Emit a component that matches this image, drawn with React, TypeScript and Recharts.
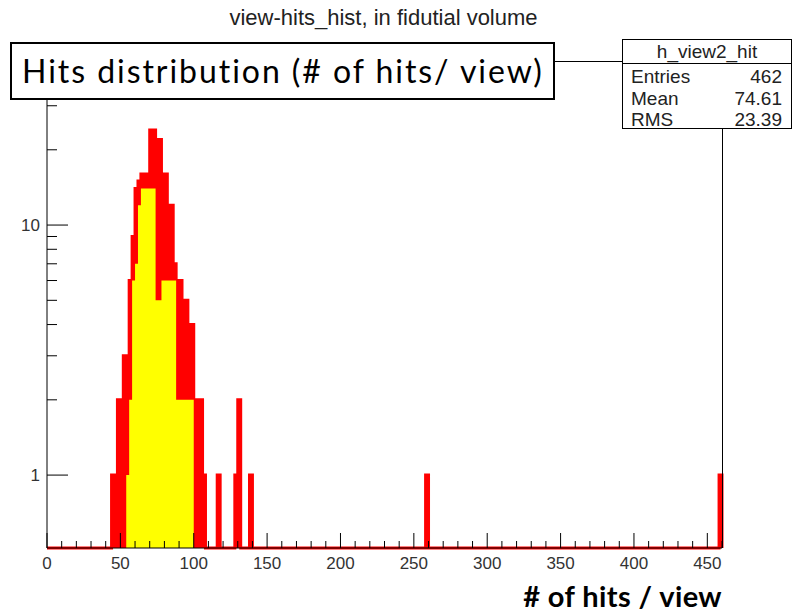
import { ComposedChart, Area, XAxis, YAxis } from "recharts"

const X_MIN = 0
const X_MAX = 460
const BIN_WIDTH = 2
const Y_MIN = 0.511
const Y_MAX = 45.3

// red histogram: left edge of every non-empty bin and its entries
const RED_EDGES = [44, 46, 48, 50, 52, 54, 56, 58, 60, 62, 64, 66, 68, 70, 72, 74, 76, 78, 80, 82, 84, 86, 88, 90, 92, 94, 96, 98, 100, 102, 104, 106, 116, 128, 130, 138, 258, 458]
const RED_COUNTS = [1, 1, 2, 2, 3, 3, 6, 9, 14, 15, 16, 16, 16, 24, 24, 22, 22, 16, 16, 12, 12, 7, 6, 6, 5, 5, 4, 4, 2, 1, 2, 1, 1, 1, 2, 1, 1, 1]

// yellow histogram (drawn over the red one)
const YELLOW_EDGES = [54, 56, 58, 60, 62, 64, 66, 68, 70, 72, 74, 76, 78, 80, 82, 84, 86, 88, 90, 92, 94, 96, 98]
const YELLOW_COUNTS = [1, 2, 6, 7, 12, 14, 14, 14, 14, 14, 5, 5, 6, 6, 6, 6, 6, 2, 2, 2, 2, 2, 2]

const X_LABELS = [0, 50, 100, 150, 200, 250, 300, 350, 400, 450]
const Y_TICKS = [1, 2, 3, 4, 5, 6, 7, 8, 9, 10, 20, 30, 40]
const Y_LABELS = [1, 10]

const STATS_NAME = "h_view2_hit"
const STATS_ROWS = [
  ["Entries", "462"],
  ["Mean", "74.61"],
  ["RMS", "23.39"],
]

const X_TICKS: number[] = []
for (let t = X_MIN; t <= X_MAX; t += 10) X_TICKS.push(t)

function buildBins(edges: number[], counts: number[]) {
  const rows = []
  for (let x = X_MIN; x <= X_MAX; x += BIN_WIDTH) {
    const i = edges.indexOf(x)
    const n = i >= 0 ? counts[i] : 0
    // empty bins sit on the bottom of the log axis
    rows.push({ x, count: n > 0 ? n : Y_MIN })
  }
  return rows
}

const redBins = buildBins(RED_EDGES, RED_COUNTS)
const yellowBins = buildBins(YELLOW_EDGES, YELLOW_COUNTS)

const ROOT_FONT = "'Liberation Sans', Arial, sans-serif"

function XTick(props: any) {
  const { x, y, payload } = props
  const major = X_LABELS.includes(payload.value)
  return (
    <g>
      <line x1={x} y1={y} x2={x} y2={y - (major ? 15 : 7)} stroke="#000" strokeWidth={1} />
      {major && (
        <text x={x} y={y + 21} textAnchor="middle" fontSize={17} fill="#333" fontFamily={ROOT_FONT}>
          {payload.value}
        </text>
      )}
    </g>
  )
}

function YTick(props: any) {
  const { x, y, payload } = props
  const major = Y_LABELS.includes(payload.value)
  return (
    <g>
      <line x1={x} y1={y} x2={x + (major ? 21 : 10)} y2={y} stroke="#000" strokeWidth={1} />
      {major && (
        <text x={x - 7} y={y + 6} textAnchor="end" fontSize={17} fill="#333" fontFamily={ROOT_FONT}>
          {payload.value}
        </text>
      )}
    </g>
  )
}

export default function App() {
  return (
    <div style={{ position: "absolute", left: 0, top: 0, width: 798, height: 613, background: "#fff" }}>
      <ComposedChart width={798} height={613} margin={{ top: 61, right: 76, bottom: 0, left: 0 }}>
        <Area
          data={redBins}
          dataKey="count"
          type="stepAfter"
          stroke="#ff0000"
          strokeWidth={3}
          fill="#ff0000"
          fillOpacity={1}
          baseValue={Y_MIN}
          dot={false}
          activeDot={false}
          isAnimationActive={false}
        />
        <Area
          data={yellowBins}
          dataKey="count"
          type="stepAfter"
          stroke="none"
          fill="#ffff00"
          fillOpacity={1}
          baseValue={Y_MIN}
          dot={false}
          activeDot={false}
          isAnimationActive={false}
        />
        <XAxis
          type="number"
          dataKey="x"
          domain={[X_MIN, X_MAX]}
          ticks={X_TICKS}
          interval={0}
          tickSize={0}
          tickMargin={0}
          tickLine={false}
          tick={<XTick />}
          axisLine={{ stroke: "#000" }}
          height={65}
        />
        <YAxis
          type="number"
          scale="log"
          domain={[Y_MIN, Y_MAX]}
          ticks={Y_TICKS}
          interval={0}
          tickSize={0}
          tickMargin={0}
          tickLine={false}
          tick={<YTick />}
          axisLine={{ stroke: "#000" }}
          width={47}
        />
      </ComposedChart>

      {/* top and right sides of the frame */}
      <div
        style={{
          position: "absolute",
          left: 47,
          top: 61,
          width: 676,
          height: 487,
          borderTop: "1px solid #000",
          borderRight: "1px solid #000",
          boxSizing: "border-box",
          pointerEvents: "none",
        }}
      />

      <div
        style={{
          position: "absolute",
          left: 0,
          top: 5,
          width: 767,
          textAlign: "center",
          fontFamily: ROOT_FONT,
          fontSize: 22,
          color: "#222",
        }}
      >
        view-hits_hist, in fidutial volume
      </div>

      <div
        style={{
          position: "absolute",
          left: 10,
          top: 42,
          width: 545,
          height: 58,
          border: "2px solid #000",
          boxSizing: "border-box",
          background: "#fff",
          fontFamily: "Lato, sans-serif",
          fontSize: 32,
          letterSpacing: 1.95,
          fontVariantLigatures: "none",
          lineHeight: "54px",
          paddingLeft: 10,
          whiteSpace: "nowrap",
        }}
      >
        Hits distribution (# of hits/ view)
      </div>

      <div
        style={{
          position: "absolute",
          left: 622,
          top: 39,
          width: 170,
          height: 90,
          border: "1px solid #000",
          boxSizing: "border-box",
          background: "#fff",
          fontFamily: ROOT_FONT,
          color: "#222",
        }}
      >
        <div style={{ height: 23, borderBottom: "1px solid #000", textAlign: "center", fontSize: 19, lineHeight: "23px" }}>
          {STATS_NAME}
        </div>
        <div style={{ paddingTop: 2 }}>
          {STATS_ROWS.map(([k, v]) => (
            <div
              key={k}
              style={{ display: "flex", justifyContent: "space-between", height: 21.5, lineHeight: "21.5px", fontSize: 19, padding: "0 9px 0 8px" }}
            >
              <span>{k}</span>
              <span>{v}</span>
            </div>
          ))}
        </div>
      </div>

      <div
        style={{
          position: "absolute",
          right: 76,
          top: 578,
          fontFamily: "Lato, sans-serif",
          fontWeight: 700,
          fontSize: 29,
          letterSpacing: 0.4,
          fontVariantLigatures: "none",
          whiteSpace: "nowrap",
        }}
      >
        # of hits / view
      </div>
    </div>
  )
}
